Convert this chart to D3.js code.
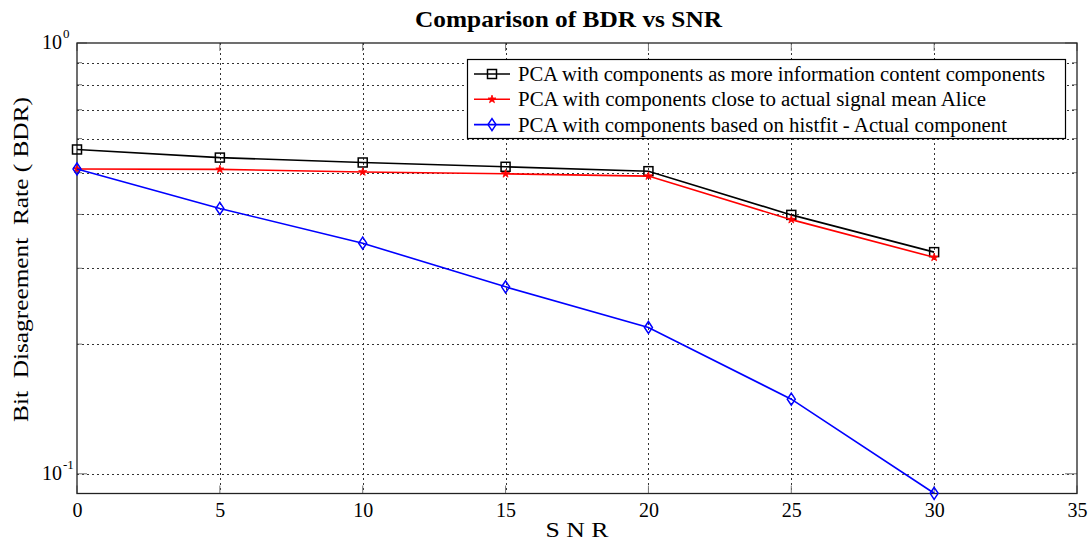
<!DOCTYPE html>
<html><head><meta charset="utf-8">
<script src="https://cdn.jsdelivr.net/npm/d3@7"></script>
<style>body{margin:0;background:#fff;}svg{display:block;font-family:"Liberation Serif","Times New Roman",serif;} text{font-family:"Liberation Serif","Times New Roman",serif;}</style>
</head><body>
<svg id="c" width="1090" height="541"></svg>
<script>
const snr = [0, 5, 10, 15, 20, 25, 30];
const bdrInfo = [0.566, 0.542, 0.528, 0.516, 0.504, 0.399, 0.327];
const bdrMean = [0.510, 0.509, 0.502, 0.497, 0.491, 0.389, 0.318];
const bdrHist = [0.510, 0.413, 0.343, 0.2716, 0.2186, 0.149, 0.0901];
const seriesNames = [
  "PCA with components as more information content components",
  "PCA with components close to actual signal mean Alice",
  "PCA with components based on histfit - Actual component"
];
const seriesColors = ["#000000", "#ff0000", "#0000ff"];
const seriesMarkers = ["square", "star", "diamond"];
const xTicks = [0, 5, 10, 15, 20, 25, 30, 35];
const yMinorGrid = [0.2, 0.3, 0.4, 0.5, 0.6, 0.7, 0.8, 0.9];
const yMajor = [{v: 1, exp: "0"}, {v: 0.1, exp: "-1"}];

const FONT = "Liberation Serif";
const svg = d3.select("#c");
const L = 77, R = 1077, T = 43, B = 493.5;
const x = d3.scaleLinear().domain([0, 35]).range([L, R]);
const y = d3.scaleLog().domain([0.09, 1]).range([B, T]);

// grid
const g = svg.append("g");
g.selectAll("line.gx").data(xTicks.slice(1, -1)).join("line")
  .attr("x1", d => Math.round(x(d)) + 0.5).attr("x2", d => Math.round(x(d)) + 0.5).attr("y1", T).attr("y2", B)
  .attr("stroke", "#333").attr("stroke-width", 1).attr("stroke-dasharray", "2,3");
g.selectAll("line.gy").data(yMinorGrid.concat([0.1])).join("line")
  .attr("x1", L).attr("x2", R).attr("y1", d => Math.round(y(d)) + 0.5).attr("y2", d => Math.round(y(d)) + 0.5)
  .attr("stroke", "#333").attr("stroke-width", 1).attr("stroke-dasharray", "2,3");

// ticks
const tk = svg.append("g").attr("stroke", "#777").attr("stroke-width", 1);
xTicks.forEach(t => {
  tk.append("line").attr("x1", x(t)).attr("x2", x(t)).attr("y1", B).attr("y2", B - 8);
  tk.append("line").attr("x1", x(t)).attr("x2", x(t)).attr("y1", T).attr("y2", T + 8);
});
yMajor.forEach(t => {
  tk.append("line").attr("x1", L).attr("x2", L + 10).attr("y1", y(t.v)).attr("y2", y(t.v));
  tk.append("line").attr("x1", R).attr("x2", R - 12).attr("y1", y(t.v)).attr("y2", y(t.v));
});
yMinorGrid.forEach(v => {
  tk.append("line").attr("x1", L).attr("x2", L + 5).attr("y1", y(v)).attr("y2", y(v));
  tk.append("line").attr("x1", R).attr("x2", R - 5).attr("y1", y(v)).attr("y2", y(v));
});

// frame
svg.append("rect").attr("x", L).attr("y", T).attr("width", R - L).attr("height", B - T)
  .attr("fill", "none").attr("stroke", "#222").attr("stroke-width", 1.3);

// axis labels
const xAxisG = svg.append("g").attr("transform", `translate(0,${B})`)
  .call(d3.axisBottom(x).tickValues(xTicks).tickSize(0).tickPadding(9).tickFormat(d3.format("d")));
xAxisG.attr("font-family", FONT).attr("font-size", 20);
xAxisG.select(".domain").remove();
xAxisG.selectAll("text").attr("font-size", 20).attr("fill", "#000").style("font-family", FONT);

yMajor.forEach(t => {
  const tx = svg.append("text").attr("x", 42).attr("y", y(t.v) + 6).attr("text-anchor", "start")
    .attr("font-size", 20).attr("fill", "#000").style("font-family", FONT);
  tx.append("tspan").text("10");
  tx.append("tspan").attr("dx", 1).attr("dy", -11).attr("font-size", 13).text(t.exp);
});

// title & labels
svg.append("text").attr("x", 568.5).attr("y", 27).attr("text-anchor", "middle")
  .attr("font-size", 23).attr("font-weight", "bold").attr("textLength", 307).attr("lengthAdjust", "spacingAndGlyphs")
  .style("font-family", FONT).text("Comparison of BDR vs SNR");
svg.append("text").attr("x", 577).attr("y", 537).attr("text-anchor", "middle")
  .attr("font-size", 22).attr("textLength", 63).attr("lengthAdjust", "spacingAndGlyphs")
  .style("font-family", FONT).style("white-space", "pre").text("S N R");
svg.append("text").attr("transform", "translate(28,259.5) rotate(-90)").attr("text-anchor", "middle")
  .attr("font-size", 22).attr("textLength", 325).attr("lengthAdjust", "spacingAndGlyphs")
  .style("font-family", FONT).style("white-space", "pre").text("Bit  Disagreement  Rate ( BDR)");

// markers
function drawMarker(sel, type, color) {
  if (type === "square") {
    sel.append("rect").attr("x", -4.5).attr("y", -4.5).attr("width", 9).attr("height", 9)
      .attr("fill", "none").attr("stroke", color).attr("stroke-width", 1.5);
  } else if (type === "diamond") {
    sel.append("path").attr("d", "M0,-6L4,0L0,6L-4,0Z")
      .attr("fill", "none").attr("stroke", color).attr("stroke-width", 1.5);
  } else {
    sel.append("path").attr("d", d3.symbol().type(d3.symbolStar).size(20)())
      .attr("fill", color).attr("stroke", color).attr("stroke-width", 0.8);
  }
}

const allSeries = [bdrInfo, bdrMean, bdrHist];
const line = d3.line().x((d, i) => x(snr[i])).y(d => y(d));
allSeries.forEach((vals, si) => {
  const sg = svg.append("g");
  sg.append("path").datum(vals).attr("d", line).attr("fill", "none")
    .attr("stroke", seriesColors[si]).attr("stroke-width", 1.6);
  vals.forEach((v, i) => {
    const m = sg.append("g").attr("transform", `translate(${x(snr[i])},${y(v)})`);
    drawMarker(m, seriesMarkers[si], seriesColors[si]);
  });
});

// legend
const legendWidths = [527, 468, 489];
const lg = svg.append("g");
lg.append("rect").attr("x", 467.5).attr("y", 59.5).attr("width", 598).attr("height", 79)
  .attr("fill", "#fff").attr("stroke", "#000").attr("stroke-width", 1.2);
seriesNames.forEach((name, i) => {
  const yy = 74 + i * 25.3;
  lg.append("line").attr("x1", 474).attr("x2", 510).attr("y1", yy).attr("y2", yy)
    .attr("stroke", seriesColors[i]).attr("stroke-width", 1.6);
  const m = lg.append("g").attr("transform", `translate(492,${yy})`);
  drawMarker(m, seriesMarkers[i], seriesColors[i]);
  lg.append("text").attr("x", 518).attr("y", yy + 7).attr("font-size", 20.5)
    .attr("textLength", legendWidths[i]).attr("lengthAdjust", "spacingAndGlyphs")
    .style("font-family", FONT).text(name);
});
</script>
</body></html>
